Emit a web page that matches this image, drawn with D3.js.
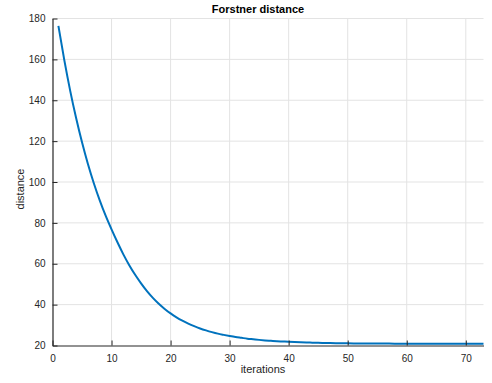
<!DOCTYPE html>
<html>
<head>
<meta charset="utf-8">
<script src="https://cdn.jsdelivr.net/npm/d3@7"></script>
<style>
  html, body { margin: 0; padding: 0; background: #fff; }
  svg { display: block; font-family: Helvetica, "Liberation Sans", Arial, sans-serif; }
</style>
</head>
<body>
<div id="chart"></div>
<script>
/* Forstner distance por iteração */

const iteracoes = d3.range(1, 74);
const distancia = [
  176.4, 159.6, 144.6, 131.3, 119.4, 108.8, 99.4, 91.0, 83.5, 76.8,
  70.5, 64.6, 59.3, 54.6, 50.4, 46.6, 43.3, 40.4, 37.9, 35.7,
  33.8, 32.15, 30.7, 29.45, 28.35, 27.4, 26.55, 25.8, 25.2, 24.65,
  24.15, 23.75, 23.35, 23.05, 22.75, 22.5, 22.3, 22.1, 21.95, 21.8,
  21.67, 21.56, 21.46, 21.38, 21.3, 21.24, 21.18, 21.13, 21.09, 21.05,
  21.02, 21.0, 20.98, 20.96, 20.94, 20.93, 20.92, 20.91, 20.9, 20.89,
  20.88, 20.87, 20.86, 20.85, 20.85, 20.84, 20.83, 20.83, 20.82, 20.82,
  20.81, 20.81, 20.8,
];
const xTicks = [0, 10, 20, 30, 40, 50, 60, 70];
const yTicks = [20, 40, 60, 80, 100, 120, 140, 160, 180];
const titulo = "Forstner distance";
const rotuloX = "iterations";
const rotuloY = "distance";

const W = 492, H = 383;
const esq = 52.5, dir = 483.5, topo = 18.5, base = 345.5;
const COR_EIXO = "#262626", COR_GRADE = "#e3e3e3", COR_LINHA = "#0072bd";

const svg = d3.select("#chart").append("svg")
  .attr("width", W).attr("height", H).attr("viewBox", `0 0 ${W} ${H}`);

const x = d3.scaleLinear().domain([0, 73]).range([esq, dir]);
const y = d3.scaleLinear().domain([20, 180]).range([base, topo]);

// grade
svg.append("g").selectAll("line").data(xTicks.filter((t) => t > 0)).join("line")
  .attr("x1", (d) => x(d)).attr("x2", (d) => x(d))
  .attr("y1", topo).attr("y2", base)
  .attr("stroke", COR_GRADE).attr("stroke-width", 1);
svg.append("g").selectAll("line").data(yTicks.filter((t) => t > 20)).join("line")
  .attr("x1", esq).attr("x2", dir)
  .attr("y1", (d) => y(d)).attr("y2", (d) => y(d))
  .attr("stroke", COR_GRADE).attr("stroke-width", 1);

// curva
const linha = d3.line()
  .x((d, i) => x(iteracoes[i])).y((d) => y(d))
  .curve(d3.curveMonotoneX);
svg.append("path").datum(distancia)
  .attr("d", linha)
  .attr("fill", "none")
  .attr("stroke", COR_LINHA)
  .attr("stroke-width", 2)
  .attr("stroke-linejoin", "round");

// eixos (ticks para dentro, estilo MATLAB)
const eixoX = svg.append("g").attr("transform", `translate(0,${base})`)
  .call(d3.axisBottom(x).tickValues(xTicks).tickSizeInner(-5).tickSizeOuter(0).tickPadding(9));
const eixoY = svg.append("g").attr("transform", `translate(${esq},0)`)
  .call(d3.axisLeft(y).tickValues(yTicks).tickSizeInner(-5).tickSizeOuter(0).tickPadding(7));
[eixoX, eixoY].forEach((g) => {
  g.select(".domain").attr("stroke", COR_EIXO).attr("stroke-width", 1.2);
  g.selectAll(".tick line").attr("stroke", COR_EIXO);
  g.selectAll(".tick text").attr("fill", COR_EIXO)
    .style("font", "10px Helvetica, 'Liberation Sans', Arial, sans-serif");
});

// textos
svg.append("text")
  .attr("x", 258).attr("y", 13)
  .attr("text-anchor", "middle")
  .style("font", "bold 11px Helvetica, 'Liberation Sans', Arial, sans-serif")
  .attr("fill", "#000")
  .text(titulo);
svg.append("text")
  .attr("x", 263).attr("y", 373)
  .attr("text-anchor", "middle")
  .style("font", "11px Helvetica, 'Liberation Sans', Arial, sans-serif")
  .attr("fill", COR_EIXO)
  .text(rotuloX);
svg.append("text")
  .attr("transform", "translate(24,189) rotate(-90)")
  .attr("text-anchor", "middle")
  .style("font", "11px Helvetica, 'Liberation Sans', Arial, sans-serif")
  .attr("fill", COR_EIXO)
  .text(rotuloY);
</script>
</body>
</html>
